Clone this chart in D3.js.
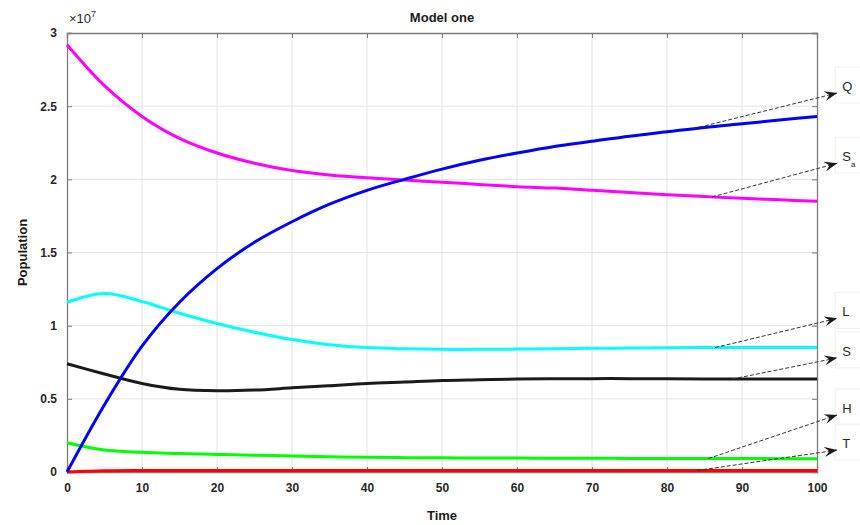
<!DOCTYPE html>
<html>
<head>
<meta charset="utf-8">
<script src="https://cdn.jsdelivr.net/npm/d3@7"></script>
<style>
  body { margin: 0; background: #fff; }
  svg { display: block; font-family: "Liberation Sans", Arial, sans-serif; }
  .tick-label { font-size: 12px; font-weight: bold; fill: #262626; }
  .grid line { stroke: #e3e3e3; stroke-width: 1; }
</style>
</head>
<body>
<div id="chart"></div>
<script>
// time grid (every 5 units)
const times = [0, 5, 10, 15, 20, 25, 30, 35, 40, 45, 50, 55, 60, 65, 70, 75, 80, 85, 90, 95, 100];

// population values in units of 1e7
const qValues  = [0, 0.46, 0.86, 1.16, 1.39, 1.57, 1.71, 1.83, 1.925, 2.00, 2.07, 2.13, 2.18, 2.225, 2.26, 2.295, 2.325, 2.355, 2.38, 2.405, 2.43];
const saValues = [2.92, 2.64, 2.43, 2.28, 2.18, 2.11, 2.06, 2.03, 2.01, 1.995, 1.98, 1.965, 1.95, 1.94, 1.925, 1.91, 1.895, 1.882, 1.87, 1.86, 1.85];
const lValues  = [1.16, 1.22, 1.165, 1.085, 1.015, 0.955, 0.905, 0.87, 0.85, 0.842, 0.838, 0.838, 0.84, 0.842, 0.845, 0.847, 0.849, 0.85, 0.85, 0.85, 0.85];
const sValues  = [0.74, 0.67, 0.605, 0.565, 0.555, 0.56, 0.575, 0.59, 0.605, 0.615, 0.625, 0.63, 0.635, 0.637, 0.638, 0.638, 0.637, 0.636, 0.635, 0.635, 0.635];
const hValues  = [0.20, 0.15, 0.135, 0.127, 0.12, 0.115, 0.11, 0.105, 0.10, 0.098, 0.097, 0.095, 0.095, 0.094, 0.094, 0.093, 0.093, 0.092, 0.092, 0.091, 0.091];
const tValues  = [0, 0.008, 0.01, 0.01, 0.01, 0.01, 0.01, 0.01, 0.01, 0.01, 0.01, 0.01, 0.01, 0.01, 0.01, 0.01, 0.01, 0.01, 0.01, 0.01, 0.01];

const seriesNames  = ['Q', 'Sa', 'L', 'S', 'H', 'T'];
const seriesColors = ['#0000ff', '#ff00ff', '#00ffff', '#1a1a1a', '#00ff00', '#ff0000'];
const seriesValues = [qValues, saValues, lValues, sValues, hValues, tValues];

// annotation arrows: start time on the curve, end point (time, value) and label
const arrowStartT = [83.5, 86, 86.4, 88.7, 85.5, 84];
const arrowEndT   = [102.7, 102.7, 102.7, 102.7, 102.7, 102.7];
const arrowEndV   = [2.59, 2.11, 1.05, 0.78, 0.39, 0.15];

const xTicks = [0, 10, 20, 30, 40, 50, 60, 70, 80, 90, 100];
const yTicks = [0, 0.5, 1, 1.5, 2, 2.5, 3];

const width = 860;
const height = 525;
const margin = { top: 33, right: 43, bottom: 53, left: 67 };

const svg = d3.select('#chart').append('svg')
  .attr('width', width)
  .attr('height', height);

const x = d3.scaleLinear().domain([0, 100]).range([margin.left, width - margin.right]);
const y = d3.scaleLinear().domain([0, 3]).range([height - margin.bottom, margin.top]);

// grid
const grid = svg.append('g').attr('class', 'grid');
grid.selectAll('line.gx').data(xTicks.slice(1, -1)).join('line')
  .attr('x1', (d) => x(d)).attr('x2', (d) => x(d))
  .attr('y1', y(0)).attr('y2', y(3));
grid.selectAll('line.gy').data(yTicks.slice(1, -1)).join('line')
  .attr('class', 'gy')
  .attr('x1', x(0)).attr('x2', x(100))
  .attr('y1', (d) => y(d)).attr('y2', (d) => y(d));

// axes (MATLAB style, box on, ticks inside)
const axisColor = '#7a7a7a';
const bottomAxis = svg.append('g')
  .attr('transform', `translate(0,${y(0)})`)
  .call(d3.axisBottom(x).tickValues(xTicks).tickSize(-5).tickPadding(11).tickFormat(d3.format('d')));
const topAxis = svg.append('g')
  .attr('transform', `translate(0,${y(3)})`)
  .call(d3.axisTop(x).tickValues(xTicks).tickSize(-5).tickFormat(''));
const leftAxis = svg.append('g')
  .attr('transform', `translate(${x(0)},0)`)
  .call(d3.axisLeft(y).tickValues(yTicks).tickSize(-5).tickPadding(10).tickFormat((d) => String(d)));
const rightAxis = svg.append('g')
  .attr('transform', `translate(${x(100)},0)`)
  .call(d3.axisRight(y).tickValues(yTicks).tickSize(-5).tickFormat(''));

[bottomAxis, topAxis, leftAxis, rightAxis].forEach((axis) => {
  axis.select('.domain').attr('stroke', axisColor).attr('stroke-width', 1.3);
  axis.selectAll('.tick line').attr('stroke', axisColor);
  axis.selectAll('.tick text').attr('class', 'tick-label');
});

// exponent label
const expo = svg.append('text')
  .attr('x', x(0) + 2).attr('y', margin.top - 10)
  .attr('font-size', 13).attr('fill', '#262626');
expo.append('tspan').text('\u00d710');
expo.append('tspan').attr('dy', -6).attr('font-size', 9).text('7');

// lines
const line = d3.line()
  .x((d) => x(d[0]))
  .y((d) => y(d[1]))
  .curve(d3.curveCatmullRom.alpha(0.5));

const plot = svg.append('g');
[5, 4, 3, 2, 1, 0].forEach((i) => {
  plot.append('path')
    .datum(times.map((t, k) => [t, seriesValues[i][k]]))
    .attr('fill', 'none')
    .attr('stroke', seriesColors[i])
    .attr('stroke-width', 3)
    .attr('d', line);
});

// value lookup on a series for arrow starts
function valueAt(values, t) {
  const k = Math.min(times.length - 2, Math.floor(t / 5));
  const f = (t - times[k]) / 5;
  return values[k] + (values[k + 1] - values[k]) * f;
}

const annot = svg.append('g');
const defs = svg.append('defs');
defs.append('marker')
  .attr('id', 'head')
  .attr('viewBox', '0 0 13 10')
  .attr('refX', 13).attr('refY', 5)
  .attr('markerWidth', 13).attr('markerHeight', 10)
  .attr('markerUnits', 'userSpaceOnUse')
  .attr('orient', 'auto')
  .append('path')
  .attr('d', 'M0,0 L13,5 L0,10 L5,5 Z')
  .attr('fill', '#1a1a1a');

seriesNames.forEach((name, i) => {
  const x0 = x(arrowStartT[i]);
  const y0 = y(valueAt(seriesValues[i], arrowStartT[i]));
  const x1 = x(arrowEndT[i]);
  const y1 = y(arrowEndV[i]);

  // faint label box
  annot.append('rect')
    .attr('x', x1 - 2).attr('y', y1 - 26)
    .attr('width', 30).attr('height', 36)
    .attr('fill', 'none').attr('stroke', '#f0f0f0');

  annot.append('line')
    .attr('x1', x0).attr('y1', y0)
    .attr('x2', x1).attr('y2', y1)
    .attr('stroke', '#333')
    .attr('stroke-width', 1)
    .attr('stroke-dasharray', '4,2')
    .attr('marker-end', 'url(#head)');

  const label = annot.append('text')
    .attr('x', x1 + 5).attr('y', y1 - 2)
    .attr('font-size', 13).attr('fill', '#262626');
  if (name === 'Sa') {
    label.append('tspan').text('S');
    label.append('tspan').attr('dy', 6).attr('font-size', 8).text('a');
  } else {
    label.text(name);
  }
});

// titles
svg.append('text')
  .attr('x', (x(0) + x(100)) / 2).attr('y', 22)
  .attr('text-anchor', 'middle')
  .attr('font-size', 13).attr('font-weight', 'bold').attr('fill', '#1a1a1a')
  .text('Model one');

svg.append('text')
  .attr('x', (x(0) + x(100)) / 2).attr('y', 520)
  .attr('text-anchor', 'middle')
  .attr('font-size', 13).attr('font-weight', 'bold').attr('fill', '#1a1a1a')
  .text('Time');

svg.append('text')
  .attr('transform', `translate(27,${(y(0) + y(3)) / 2}) rotate(-90)`)
  .attr('text-anchor', 'middle')
  .attr('font-size', 13).attr('font-weight', 'bold').attr('fill', '#1a1a1a')
  .text('Population');
</script>
</body>
</html>
